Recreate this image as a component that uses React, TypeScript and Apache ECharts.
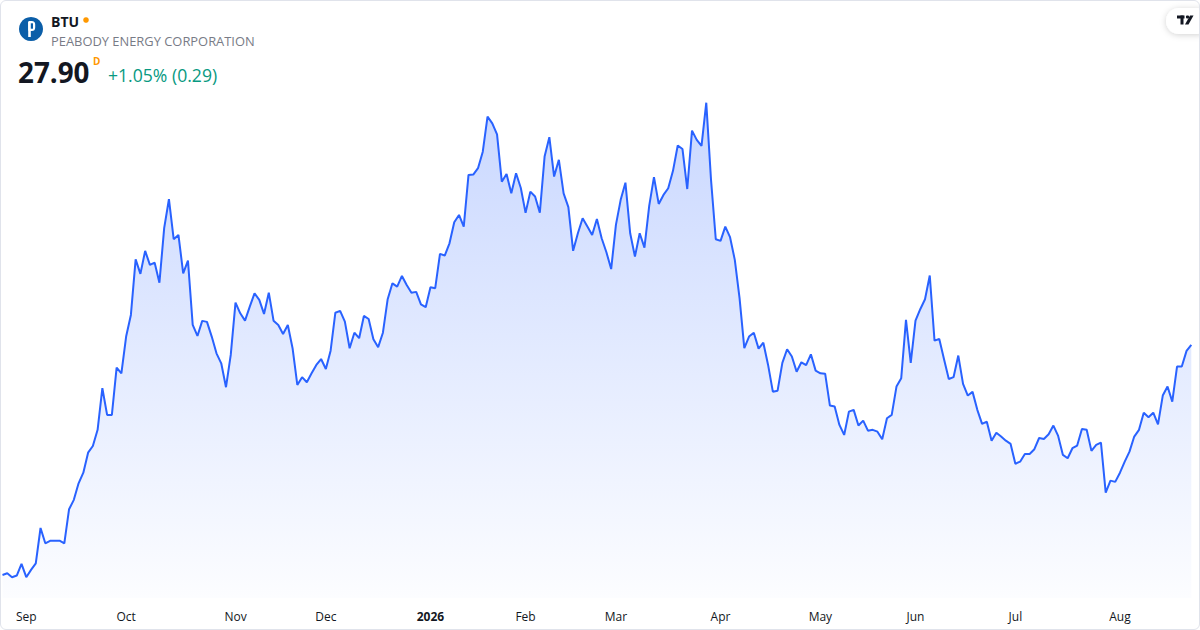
import React, { useEffect, useRef } from "react";
import * as echarts from "echarts";

// ---- data ----
const symbol = "BTU";
const companyName = "PEABODY ENERGY CORPORATION";
const lastPrice = "27.90";
const changeText = "+1.05% (0.29)";

// NYSE holidays in the period (used to build the trading-day categories)
const holidays = [
  "2025-09-01", "2025-11-27", "2025-12-25", "2026-01-01", "2026-01-19",
  "2026-02-16", "2026-04-03", "2026-05-25", "2026-06-19", "2026-07-03",
];
const startDate = "2025-08-25";
const endDate = "2026-08-24";
const monthNames = ["Jan", "Feb", "Mar", "Apr", "May", "Jun", "Jul", "Aug", "Sep", "Oct", "Nov", "Dec"];

const closes = [
  16.63, 16.71, 16.52, 16.60, 17.17, 16.52, 16.88, 17.20, 18.93, 18.18,
  18.30, 18.31, 18.31, 18.18, 19.85, 20.31, 21.12, 21.64, 22.62, 22.95,
  23.74, 25.78, 24.47, 24.47, 26.79, 26.51, 28.31, 29.37, 32.09, 31.38,
  32.51, 31.82, 31.93, 30.95, 33.62, 35.04, 33.08, 33.29, 31.41, 32.03,
  28.88, 28.34, 29.08, 29.03, 28.31, 27.49, 27.00, 25.83, 27.41, 29.97,
  29.45, 29.09, 29.78, 30.43, 30.11, 29.42, 30.46, 29.09, 28.88, 28.44,
  28.88, 27.74, 25.94, 26.32, 26.07, 26.51, 26.92, 27.21, 26.72, 27.62,
  29.48, 29.57, 29.04, 27.74, 28.50, 28.23, 29.32, 29.17, 28.18, 27.79,
  28.50, 30.14, 30.92, 30.76, 31.28, 30.84, 30.46, 30.50, 29.89, 29.75,
  30.73, 30.68, 32.36, 32.28, 32.88, 33.91, 34.27, 33.70, 36.23, 36.25,
  36.56, 37.37, 39.09, 38.76, 38.22, 35.90, 36.28, 35.33, 36.31, 35.59,
  34.37, 35.41, 35.17, 34.38, 37.13, 38.08, 36.15, 36.97, 35.33, 34.65,
  32.51, 33.37, 34.11, 33.70, 33.29, 34.07, 33.13, 32.44, 31.62, 33.78,
  35.01, 35.85, 33.37, 32.23, 33.37, 32.67, 34.71, 36.12, 34.81, 35.25,
  35.58, 36.43, 37.67, 37.50, 35.54, 38.40, 37.95, 37.65, 39.77, 35.99,
  33.08, 33.00, 33.70, 33.18, 32.07, 30.19, 27.74, 28.31, 28.50, 27.72,
  28.01, 26.92, 25.61, 25.66, 27.02, 27.69, 27.33, 26.59, 27.05, 26.91,
  27.44, 26.64, 26.51, 26.49, 24.93, 24.88, 23.98, 23.49, 24.63, 24.72,
  23.95, 24.19, 23.70, 23.74, 23.65, 23.28, 24.31, 24.47, 25.86, 26.27,
  29.13, 27.02, 29.09, 29.65, 30.14, 31.30, 28.11, 28.19, 27.20, 26.23,
  26.32, 27.38, 25.99, 25.42, 25.60, 24.72, 24.03, 24.14, 23.20, 23.60,
  23.41, 23.21, 23.05, 22.08, 22.18, 22.56, 22.56, 22.79, 23.34, 23.29,
  23.52, 23.95, 23.44, 22.51, 22.35, 22.84, 22.97, 23.78, 23.74, 22.71,
  23.00, 23.11, 20.66, 21.25, 21.19, 21.64, 22.18, 22.67, 23.41, 23.74,
  24.58, 24.36, 24.58, 24.01, 25.42, 25.86, 25.12, 26.84, 26.84, 27.61,
  27.90,
];

function pad(n: number) {
  return n < 10 ? "0" + n : "" + n;
}

function buildTradingDays(): string[] {
  const out: string[] = [];
  const d = new Date(startDate + "T12:00:00Z");
  const end = new Date(endDate + "T12:00:00Z");
  while (d.getTime() <= end.getTime()) {
    const wd = d.getUTCDay();
    const s = d.getUTCFullYear() + "-" + pad(d.getUTCMonth() + 1) + "-" + pad(d.getUTCDate());
    if (wd !== 0 && wd !== 6 && holidays.indexOf(s) < 0) out.push(s);
    d.setUTCDate(d.getUTCDate() + 1);
  }
  return out;
}

const categories = buildTradingDays();

export default function App() {
  const ref = useRef<HTMLDivElement>(null);

  useEffect(() => {
    document.body.style.margin = "0";
    if (!ref.current) return;
    const chart = echarts.init(ref.current, null, { renderer: "svg" });
    const font = "'Open Sans', 'Noto Sans', sans-serif";

    const isMonthStart = (idx: number) => {
      if (idx === 0) return false;
      return categories[idx].slice(0, 7) !== categories[idx - 1].slice(0, 7);
    };

    chart.setOption({
      animation: false,
      backgroundColor: "#ffffff",
      grid: { left: 2.5, right: 8.7, top: 98, bottom: 32, containLabel: false },
      xAxis: {
        type: "category",
        data: categories,
        boundaryGap: false,
        axisLine: { show: false },
        axisTick: { show: false },
        splitLine: { show: false },
        axisLabel: {
          show: true,
          interval: (idx: number) => isMonthStart(idx),
          hideOverlap: false,
          margin: 12,
          color: "#131722",
          fontSize: 12,
          fontFamily: font,
          formatter: (val: string) => {
            const m = parseInt(val.slice(5, 7), 10);
            if (m === 1) return "{y|" + val.slice(0, 4) + "}";
            return monthNames[m - 1];
          },
          rich: {
            y: { fontWeight: "bold", fontSize: 12, color: "#131722", fontFamily: font },
          },
        },
      },
      yAxis: {
        type: "value",
        min: 15.5,
        max: 40,
        show: false,
        splitLine: { show: false },
      },
      series: [
        {
          type: "line",
          data: closes,
          showSymbol: false,
          symbol: "none",
          lineStyle: { color: "#2962ff", width: 2 },
          itemStyle: { color: "#2962ff" },
          areaStyle: {
            color: new echarts.graphic.LinearGradient(0, 0, 0, 1, [
              { offset: 0, color: "rgba(41,98,255,0.36)" },
              { offset: 1, color: "rgba(41,98,255,0.02)" },
            ]),
          },
        },
      ],
      graphic: [
        { type: "circle", shape: { cx: 31, cy: 29, r: 12 }, style: { fill: "#0b5ea8" } },
        { type: "rect", shape: { x: 28.2, y: 22, width: 2.6, height: 15 }, style: { fill: "#ffffff" } },
        { type: "rect", shape: { x: 28.2, y: 21, width: 7, height: 10, r: [1, 3.5, 3.5, 1] }, style: { fill: "#ffffff" } },
        { type: "rect", shape: { x: 30.8, y: 23.3, width: 2.2, height: 5.4 }, style: { fill: "#0b5ea8" } },
        {
          type: "text", x: 51, y: 21,
          style: { text: symbol, fontSize: 14, fontWeight: "bold", fill: "#131722", fontFamily: font, verticalAlign: "middle" },
        },
        { type: "circle", shape: { cx: 86, cy: 20, r: 2.8 }, style: { fill: "#ff9800" } },
        {
          type: "text", x: 51, y: 40.5,
          style: { text: companyName, fontSize: 12.9, fill: "#787b86", fontFamily: font, verticalAlign: "middle" },
        },
        {
          type: "text", x: 18, y: 72,
          style: { text: lastPrice, fontSize: 27.8, fontWeight: "bold", fill: "#131722", fontFamily: font, verticalAlign: "middle" },
        },
        {
          type: "text", x: 93, y: 61,
          style: { text: "D", fontSize: 10, fontWeight: "bold", fill: "#ff9800", fontFamily: font, verticalAlign: "middle" },
        },
        {
          type: "text", x: 108, y: 75,
          style: { text: changeText, fontSize: 17.6, fill: "#089981", fontFamily: font, verticalAlign: "middle" },
        },
        {
          type: "rect", shape: { x: 1166, y: 8, width: 44, height: 26, r: 13 },
          style: { fill: "#ffffff", shadowBlur: 6, shadowColor: "rgba(0,0,0,0.18)", shadowOffsetY: 1 },
        },
        { type: "rect", shape: { x: 1177, y: 15.5, width: 7.5, height: 3 }, style: { fill: "#131722" } },
        { type: "rect", shape: { x: 1180.5, y: 15.5, width: 3, height: 9 }, style: { fill: "#131722" } },
        { type: "circle", shape: { cx: 1187.5, cy: 17, r: 1.6 }, style: { fill: "#131722" } },
        {
          type: "polygon",
          shape: { points: [[1190, 15.5], [1193.5, 15.5], [1188.5, 24.5], [1185, 24.5]] },
          style: { fill: "#131722" },
        },
      ],
    });
    return () => chart.dispose();
  }, []);

  return (
    <div style={{ position: "relative", width: 1200, height: 630, overflow: "hidden" }}>
      <div ref={ref} style={{ position: "absolute", left: 0, top: 0, width: 1200, height: 630 }} />
      <div
        style={{
          position: "absolute", left: 0, top: 0, width: 1200, height: 630,
          boxSizing: "border-box", border: "1px solid #e0e3eb", borderRadius: 6, pointerEvents: "none",
        }}
      />
    </div>
  );
}
